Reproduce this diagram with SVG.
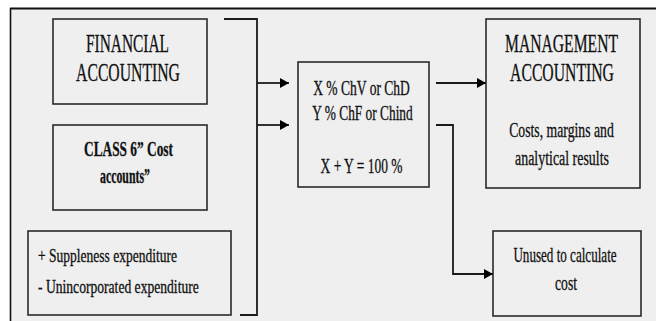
<svg xmlns="http://www.w3.org/2000/svg" width="656" height="321" viewBox="0 0 656 321">
<style>
.box{fill:#efefef;stroke:#2a2a2a;stroke-width:1.6}
.t{font-family:"Liberation Serif","Times New Roman",serif;fill:#111;stroke:#111;stroke-width:0.3;text-anchor:middle}
.l{text-anchor:start}
.big{font-size:25px}
.mid{font-size:20px}
.sm{font-size:18px}
.b{font-size:20px;font-weight:bold}
.conn{fill:none;stroke:#1a1a1a;stroke-width:1.8}
</style>
<defs>
<marker id="ah" markerWidth="10" markerHeight="10" refX="9" refY="5" orient="auto" markerUnits="userSpaceOnUse">
<path d="M0,0 L9,5 L0,10 Z" fill="#000"/>
</marker>
</defs>
<rect x="0" y="0" width="656" height="321" fill="#ffffff"/>
<rect x="10" y="8" width="646" height="313" fill="#efefef"/>
<line x1="10" y1="8.5" x2="656" y2="8.5" stroke="#111" stroke-width="2"/>
<line x1="10.5" y1="8" x2="10.5" y2="321" stroke="#111" stroke-width="1.6"/>

<g id="financial">
<rect class="box" x="53" y="19" width="154" height="85"/>
<text class="t big" transform="translate(127.5,52) scale(0.616,1)">FINANCIAL</text>
<text class="t big" transform="translate(128,81) scale(0.629,1)">ACCOUNTING</text>
</g>
<g id="class6">
<rect class="box" x="53" y="125" width="154" height="85"/>
<text class="t b" transform="translate(128.5,156) scale(0.667,1)">CLASS 6” Cost</text>
<text class="t b" transform="translate(125,183) scale(0.592,1)">accounts”</text>
</g>
<g id="adjust">
<rect class="box" x="28" y="231" width="203" height="84"/>
<text class="t l sm" transform="translate(38,262) scale(0.751,1)">+ Suppleness expenditure</text>
<text class="t l sm" transform="translate(38,293) scale(0.756,1)">- Unincorporated expenditure</text>
</g>
<g id="split">
<rect class="box" x="298" y="62" width="131" height="125"/>
<text class="t mid" transform="translate(361.5,95) scale(0.677,1)">X % ChV or ChD</text>
<text class="t mid" transform="translate(362.5,120) scale(0.668,1)">Y % ChF or Chind</text>
<text class="t mid" transform="translate(361.5,173) scale(0.674,1)">X + Y = 100 %</text>
</g>
<g id="management">
<rect class="box" x="486" y="19" width="154" height="169"/>
<text class="t big" transform="translate(561.5,52) scale(0.626,1)">MANAGEMENT</text>
<text class="t big" transform="translate(562,81) scale(0.629,1)">ACCOUNTING</text>
<text class="t mid" transform="translate(561.5,137) scale(0.687,1)">Costs, margins and</text>
<text class="t mid" transform="translate(562,165) scale(0.696,1)">analytical results</text>
</g>
<g id="unused">
<rect class="box" x="493" y="231" width="148" height="85"/>
<text class="t mid" transform="translate(565,262) scale(0.655,1)">Unused to calculate</text>
<text class="t mid" transform="translate(566,290) scale(0.683,1)">cost</text>
</g>
<g id="connectors">
<polyline class="conn" points="224,19 257,19 257,315 240,315"/>
<line class="conn" x1="257" y1="83" x2="289" y2="83" marker-end="url(#ah)"/>
<line class="conn" x1="257" y1="125" x2="289" y2="125" marker-end="url(#ah)"/>
<line class="conn" x1="436" y1="83" x2="486" y2="83" marker-end="url(#ah)"/>
<polyline class="conn" points="436,125 453,125 453,274 493,274" marker-end="url(#ah)"/>
</g>
</svg>
